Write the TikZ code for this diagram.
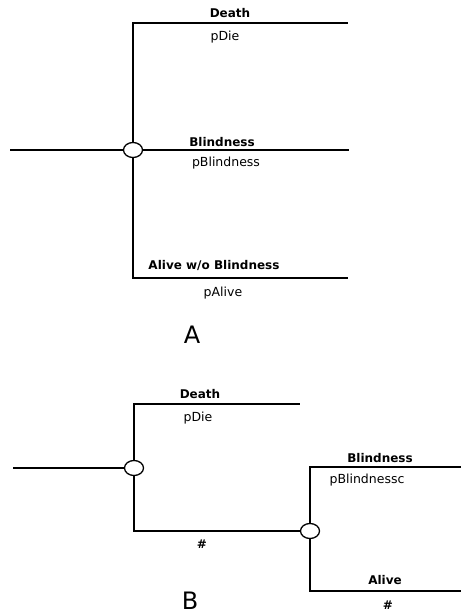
\documentclass[tikz,border=0pt]{standalone}
\usepackage{fontspec}
\setmainfont{DejaVu Sans}
\usetikzlibrary{shapes.geometric}
\begin{document}
\begin{tikzpicture}[x=1pt,y=-1pt,
  branch/.style={line width=1.4pt},
  chance/.style={ellipse, draw, line width=1.3pt, fill=white,
    minimum width=19pt, minimum height=15pt, inner sep=0pt},
  outcome/.style={font=\bfseries\fontsize{12}{12}\selectfont, inner sep=0pt, anchor=base},
  prob/.style={font=\fontsize{12.5}{12.5}\selectfont, inner sep=0pt, anchor=base},
  panel/.style={font=\fontsize{24}{24}\selectfont, inner sep=0pt, anchor=base}]
\useasboundingbox (0,0) rectangle (461,614);

% ---- Panel A: one chance node with three outcomes ----
\coordinate (a0) at (10,150);
\node[chance] (ca) at (133,150) {};
\coordinate (aD0) at (133,23);  \coordinate (aD1) at (348,23);
\coordinate (aB1) at (349,150);
\coordinate (aA0) at (133,278); \coordinate (aA1) at (348,278);
\draw[branch] (a0) -- (ca.west);
\draw[branch] (ca.north) -- (aD0) -- (aD1);
\draw[branch] (ca.east) -- (aB1);
\draw[branch] (ca.south) -- (aA0) -- (aA1);
\node[outcome] (aDl) at (230,17) {Death};
\node[prob] (aDp) at (225,40) {pDie};
\node[outcome] (aBl) at (222,146) {Blindness};
\node[prob] (aBp) at (226,166) {pBlindness};
\node[outcome] (aAl) at (214,269) {Alive w/o Blindness};
\node[prob] (aAp) at (223,296) {pAlive};
\node[panel] (labA) at (192,343) {A};

% ---- Panel B: two chance nodes in sequence ----
\coordinate (b0) at (13,468);
\node[chance] (cb1) at (134,468) {};
\node[chance] (cb2) at (310,531) {};
\coordinate (bD0) at (134,404); \coordinate (bD1) at (300,404);
\coordinate (bS0) at (134,531);
\coordinate (bB0) at (310,467); \coordinate (bB1) at (461,467);
\coordinate (bA0) at (310,591); \coordinate (bA1) at (461,591);
\draw[branch] (b0) -- (cb1.west);
\draw[branch] (cb1.north) -- (bD0) -- (bD1);
\draw[branch] (cb1.south) -- (bS0) -- (cb2.west);
\draw[branch] (cb2.north) -- (bB0) -- (bB1);
\draw[branch] (cb2.south) -- (bA0) -- (bA1);
\node[outcome] (bDl) at (200,398) {Death};
\node[prob] (bDp) at (198,421) {pDie};
\node[outcome] (bSh) at (202,548) {\#};
\node[outcome] (bBl) at (380,462) {Blindness};
\node[prob] (bBp) at (367,483) {pBlindnessc};
\node[outcome] (bAl) at (385,584) {Alive};
\node[outcome] (bAh) at (388,609) {\#};
\node[panel] (labB) at (190,609) {B};
\end{tikzpicture}
\end{document}
